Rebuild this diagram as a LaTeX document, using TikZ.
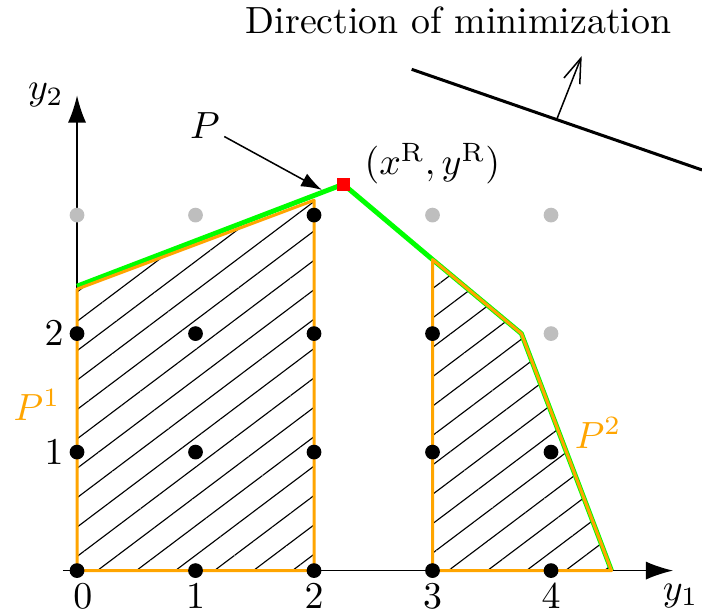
\documentclass[tikz,border=0pt]{standalone}
\usetikzlibrary{arrows.meta, patterns.meta, positioning}
\definecolor{polyor}{HTML}{FFA500}
\definecolor{frontgr}{HTML}{00FF00}
\definecolor{outgray}{HTML}{BEBEBE}
\tikzset{
  % assi cartesiani
  axis/.style={line width=0.4pt, -{Latex[length=7.2pt, width=4.8pt]}},
  % punti interi dentro / fuori dai poliedri
  intpt/.style={circle, fill=black, minimum size=3.9pt, inner sep=0pt},
  outpt/.style={circle, fill=outgray, minimum size=3.9pt, inner sep=0pt},
  % poliedri e frontiera
  poly/.style={draw=polyor, line width=0.8pt, line join=round},
  hatch/.style={pattern={Lines[angle=37, distance=6.2pt, line width=0.3pt]}},
  front/.style={draw=frontgr, line width=1.3pt, line join=round},
  polylbl/.style={text=polyor},
  % punto di riferimento
  refpt/.style={rectangle, fill=red, minimum size=3.3pt, inner sep=0pt},
  ptr/.style={-{Latex[length=5.5pt, width=3.8pt]}, line width=0.4pt},
  dirarrow/.style={-{Straight Barb[length=6.5pt, width=4.5pt]}, line width=0.4pt},
}
\begin{document}
\begin{tikzpicture}[x=1.1cm, y=1.1cm]
  \useasboundingbox (-0.65,-0.371) rectangle (5.274,4.815);
  % assi
  \draw[axis] (-0.12,0) -- (5.03,0) node[below, xshift=2pt] (y1) {$y_1$};
  \draw[axis] (0,-0.06) -- (0,4.01) node[left] (y2) {$y_2$};
  \foreach \x in {1,...,4} { \node[below] (tx\x) at (\x,0) {$\x$}; }
  \node[below] (tx0) at (0.05,0) {$0$};
  \foreach \y in {1,2} { \node[left] (ty\y) at (0,\y) {$\y$}; }
  % tratteggio dei poliedri
  \fill[hatch] (0,0) -- (0,2.375) -- (2,3.125) -- (2,0) -- cycle;
  \fill[hatch] (3,0) -- (3,2.625) -- (3.75,2) -- (4.51,0) -- cycle;
  % frontiera
  \draw[front] (0,2.4) -- (2.247,3.26) -- (3,2.625) -- (3.75,2) -- (4.51,0);
  \draw[poly] (0,0) -- (0,2.375) -- (2,3.125) -- (2,0) -- cycle;
  \draw[poly] (3,0) -- (3,2.625) -- (3.75,2) -- (4.51,0) -- cycle;
  % punti interi
  \foreach \x/\y in {0/0, 1/0, 2/0, 0/1, 1/1, 2/1, 0/2, 1/2, 2/2, 2/3, 3/0, 4/0, 3/1, 4/1, 3/2} {
    \node[intpt] (p\x\y) at (\x,\y) {};
  }
  \foreach \x/\y in {0/3, 1/3, 3/3, 4/3, 4/2} {
    \node[outpt] (q\x\y) at (\x,\y) {};
  }
  \node[polylbl] (P1) at (-0.338,1.40) {$P^1$};
  \node[polylbl] (P2) at (4.397,1.164) {$P^2$};
  % punto di riferimento
  \node[refpt] (xR) at (2.247,3.26) {};
  \node[anchor=base west, inner sep=0pt] (xRlbl) at (2.42,3.339) {$(x^{\mathrm{R}},y^{\mathrm{R}})$};
  \node[inner sep=1pt] (P) at (1.08,3.752) {$P$};
  \coordinate (Ptip) at (2.067,3.212);
  \draw[ptr] (P) -- (Ptip);
  % direzione di minimizzazione
  \coordinate (dirA) at (2.824,4.230);
  \coordinate (dirB) at (5.274,3.381);
  \draw[line width=0.8pt] (dirA) -- (dirB);
  \coordinate (nA) at (4.048,3.807);
  \coordinate (nB) at (4.259,4.342);
  \draw[dirarrow] (nA) -- (nB);
  \node[anchor=base] (dirlbl) at (3.22,4.536) {Direction of minimization};
\end{tikzpicture}
\end{document}
